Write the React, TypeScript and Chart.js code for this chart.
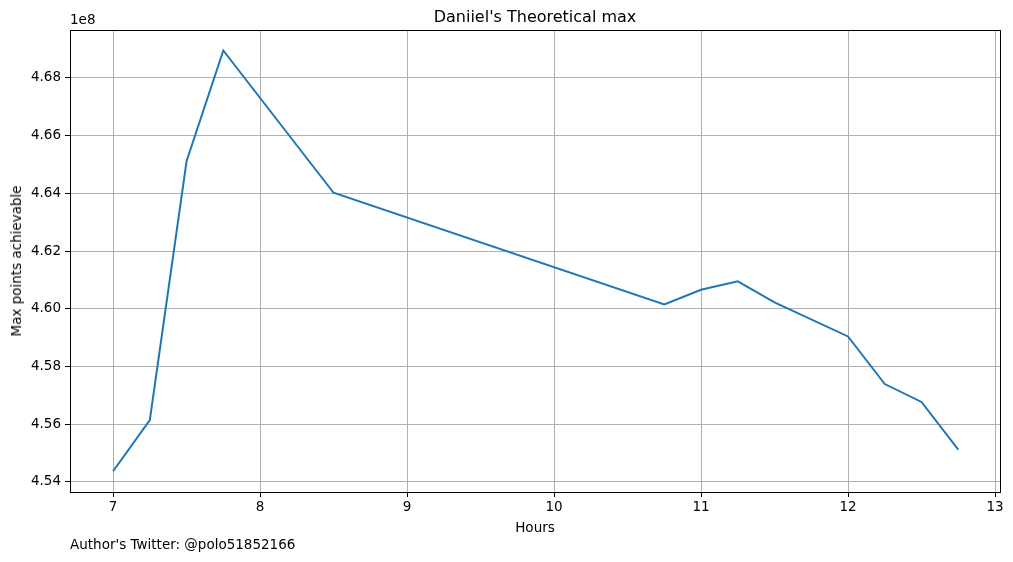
import { useEffect, useRef } from 'react'
import { Chart, registerables } from 'chart.js'
Chart.register(...registerables)

const hours = [7, 7.25, 7.5, 7.75, 8.5, 10.75, 11, 11.25, 11.5, 12, 12.25, 12.5, 12.75]
const maxPoints = [4.5437, 4.5614, 4.6511, 4.6895, 4.6402, 4.6015, 4.6066, 4.6095, 4.6022, 4.5904, 4.5739, 4.5677, 4.5512]
const xTicks = [7, 8, 9, 10, 11, 12, 13]
const yTicks = [4.54, 4.56, 4.58, 4.60, 4.62, 4.64, 4.66, 4.68]

const font = 'DejaVu Sans, sans-serif'

export default function App() {
    const canvasRef = useRef<HTMLCanvasElement>(null)
    const chartRef = useRef<Chart | null>(null)

    useEffect(() => {
        if (!canvasRef.current) return
        chartRef.current?.destroy()
        chartRef.current = new Chart(canvasRef.current, {
            type: 'line',
            data: {
                datasets: [{
                    data: hours.map((h, i) => ({ x: h, y: maxPoints[i] })),
                    borderColor: '#1f77b4',
                    borderWidth: 2,
                    pointRadius: 0,
                    tension: 0,
                }],
            },
            options: {
                animation: false,
                responsive: false,
                layout: { padding: { top: 30, right: 13 } },
                plugins: { legend: { display: false }, tooltip: { enabled: false } },
                scales: {
                    x: {
                        type: 'linear', min: 6.707, max: 13.034,
                        afterBuildTicks: s => { s.ticks = xTicks.map(v => ({ value: v })) },
                        afterFit: s => { s.height = 70 },
                        grid: { color: '#b0b0b0', tickLength: 5, tickColor: '#000' },
                        border: { display: false },
                        ticks: { color: '#000', font: { family: font, size: 13.5 }, padding: 2, maxRotation: 0 },
                    },
                    y: {
                        min: 4.5365, max: 4.6966,
                        afterBuildTicks: s => { s.ticks = yTicks.map(v => ({ value: v })) },
                        afterFit: s => { s.width = 70 },
                        grid: { color: '#b0b0b0', tickLength: 5, tickColor: '#000' },
                        border: { display: false },
                        ticks: { color: '#000', font: { family: font, size: 13.5 }, padding: 4, callback: v => Number(v).toFixed(2) },
                    },
                },
            },
        })
        return () => chartRef.current?.destroy()
    }, [])

    const txt = { position: 'absolute' as const, fontFamily: font, fontSize: 13.5, color: '#000', whiteSpace: 'nowrap' as const }

    return (
        <div style={{ position: 'fixed', left: 0, top: 0, width: 1013, height: 562, background: '#fff' }}>
            <canvas ref={canvasRef} width={1013} height={562} style={{ display: 'block' }} />
            <div style={{ position: 'absolute', left: 70, top: 30, width: 931, height: 463, border: '1px solid #000', boxSizing: 'border-box', pointerEvents: 'none' }} />
            <div style={{ ...txt, left: 0, width: 1070, top: 7, fontSize: 16, textAlign: 'center' }}>Daniiel's Theoretical max</div>
            <div style={{ ...txt, left: 70, top: 11 }}>1e8</div>
            <div style={{ ...txt, left: 0, width: 1070, top: 519, textAlign: 'center' }}>Hours</div>
            <div style={{ ...txt, left: 16, top: 261, transform: 'translate(-50%, -50%) rotate(-90deg)' }}>Max points achievable</div>
            <div style={{ ...txt, left: 70, top: 536 }}>Author's Twitter: @polo51852166</div>
        </div>
    )
}
